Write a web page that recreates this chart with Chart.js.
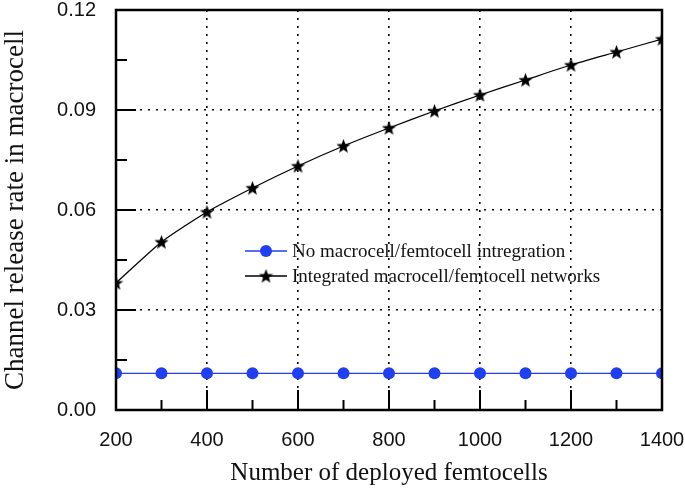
<!DOCTYPE html>
<html>
<head>
<meta charset="utf-8">
<script src="https://cdn.jsdelivr.net/npm/chart.js@4/dist/chart.umd.min.js"></script>
<style>
html,body{margin:0;padding:0;background:#fff;}
#wrap{width:685px;height:488px;position:relative;}
</style>
</head>
<body>
<div id="wrap"><canvas id="c" width="685" height="488"></canvas></div>
<script>
const femtocells = [200, 300, 400, 500, 600, 700, 800, 900, 1000, 1100, 1200, 1300, 1400];
const noIntegration = [0.011, 0.011, 0.011, 0.011, 0.011, 0.011, 0.011, 0.011, 0.011, 0.011, 0.011, 0.011, 0.011];
const integrated = [0.0381, 0.0504, 0.0594, 0.0666, 0.0732, 0.0792, 0.0846, 0.0897, 0.0945, 0.0990, 0.1035, 0.1074, 0.1113];
const seriesLabels = ['No macrocell/femtocell intregration', 'Integrated macrocell/femtocell networks'];
const xTitle = 'Number of deployed femtocells';
const yTitle = 'Channel release rate in macrocell';

function makeStar(size) {
  const cv = document.createElement('canvas');
  cv.width = size; cv.height = size;
  const g = cv.getContext('2d');
  const cx = size / 2, cy = size / 2 + 0.6, R = size / 2, r = R * 0.42;
  g.beginPath();
  for (let i = 0; i < 10; i++) {
    const rad = i % 2 === 0 ? R : r;
    const a = -Math.PI / 2 + i * Math.PI / 5;
    const px = cx + rad * Math.cos(a), py = cy + rad * Math.sin(a);
    if (i === 0) g.moveTo(px, py); else g.lineTo(px, py);
  }
  g.closePath();
  g.fillStyle = '#000';
  g.fill();
  return cv;
}
const starImg = makeStar(15);
const blue = '#1f3ff0';

const frameAndTicks = {
  id: 'frameAndTicks',
  afterDraw(chart) {
    const ctx = chart.ctx;
    const a = chart.chartArea;
    const xs = chart.scales.x, ys = chart.scales.y;
    ctx.save();
    ctx.strokeStyle = '#000';
    ctx.lineWidth = 2;
    const xt = xs.ticks.map(t => t.value);
    ctx.beginPath();
    xt.forEach((v, i) => {
      const px = xs.getPixelForValue(v);
      ctx.moveTo(px, a.bottom); ctx.lineTo(px, a.bottom - 20);
      if (i < xt.length - 1) {
        const pm = xs.getPixelForValue((v + xt[i + 1]) / 2);
        ctx.moveTo(pm, a.bottom); ctx.lineTo(pm, a.bottom - 10);
      }
    });
    const yt = ys.ticks.map(t => t.value);
    yt.forEach((v, i) => {
      const py = ys.getPixelForValue(v);
      ctx.moveTo(a.left, py); ctx.lineTo(a.left + 20, py);
      if (i < yt.length - 1) {
        const pm = ys.getPixelForValue((v + yt[i + 1]) / 2);
        ctx.moveTo(a.left, pm); ctx.lineTo(a.left + 11, pm);
      }
    });
    ctx.stroke();
    ctx.lineWidth = 2.5;
    ctx.strokeRect(a.left, a.top, a.right - a.left, a.bottom - a.top);

    // legend
    const lx = 245, ly = 251, gap = 25;
    ctx.font = '19px "Liberation Serif", "Times New Roman", serif';
    ctx.textBaseline = 'middle';
    ctx.textAlign = 'left';
    chart.data.datasets.forEach((ds, i) => {
      const y = ly + i * gap;
      ctx.strokeStyle = ds.borderColor;
      ctx.lineWidth = 1.5;
      ctx.beginPath(); ctx.moveTo(lx, y); ctx.lineTo(lx + 42, y); ctx.stroke();
      if (i === 0) {
        ctx.fillStyle = blue;
        ctx.beginPath(); ctx.arc(lx + 21, y, 6, 0, Math.PI * 2); ctx.fill();
      } else {
        ctx.drawImage(starImg, lx + 21 - 7.5, y - 7.5);
      }
      ctx.fillStyle = '#111';
      ctx.fillText(ds.label, lx + 47, y + 1);
    });
    ctx.restore();
  }
};

new Chart(document.getElementById('c'), {
  type: 'line',
  data: {
    datasets: [
      {
        label: seriesLabels[0],
        data: femtocells.map((x, i) => ({ x: x, y: noIntegration[i] })),
        borderColor: blue,
        backgroundColor: blue,
        borderWidth: 1.3,
        pointRadius: 6,
        pointHoverRadius: 6,
        pointBorderWidth: 0,
        clip: 0
      },
      {
        label: seriesLabels[1],
        data: femtocells.map((x, i) => ({ x: x, y: integrated[i] })),
        borderColor: '#000',
        backgroundColor: '#000',
        borderWidth: 1.3,
        pointStyle: starImg,
        pointRadius: 7,
        tension: 0.2,
        clip: 0
      }
    ]
  },
  options: {
    responsive: false,
    animation: false,
    layout: { padding: { top: 10, right: 23, left: 0, bottom: 0 } },
    plugins: { legend: { display: false }, tooltip: { enabled: false } },
    scales: {
      x: {
        type: 'linear',
        min: 200, max: 1400,
        afterFit(s) { s.height = 78; s.paddingLeft = 0; s.paddingRight = 0; },
        ticks: {
          stepSize: 200,
          padding: 18,
          color: '#111',
          font: { family: '"Liberation Sans", Arial, sans-serif', size: 20 },
          maxRotation: 0,
          callback: (v) => String(v)
        },
        grid: {
          color: (c) => (c.tick && (c.tick.value === 200 || c.tick.value === 1400)) ? 'rgba(0,0,0,0)' : '#000',
          lineWidth: 1.6,
          drawTicks: false
        },
        border: { display: false, dash: [2, 6] },
        title: {
          display: true, text: xTitle, color: '#111',
          font: { family: '"Liberation Serif", "Times New Roman", serif', size: 25 },
          padding: { top: 2, bottom: 0 }
        }
      },
      y: {
        min: 0, max: 0.12,
        afterFit(s) { s.width = 116; s.paddingTop = 0; s.paddingBottom = 0; },
        ticks: {
          stepSize: 0.03,
          padding: 20,
          color: '#111',
          font: { family: '"Liberation Sans", Arial, sans-serif', size: 20 },
          callback: (v) => Number(v).toFixed(2)
        },
        grid: {
          color: (c) => (c.tick && (Math.abs(c.tick.value) < 1e-9 || Math.abs(c.tick.value - 0.12) < 1e-9)) ? 'rgba(0,0,0,0)' : '#000',
          lineWidth: 1.6,
          drawTicks: false
        },
        border: { display: false, dash: [2, 6] },
        title: {
          display: true, text: yTitle, color: '#111',
          font: { family: '"Liberation Serif", "Times New Roman", serif', size: 27 },
          padding: { top: 0, bottom: 4 }
        }
      }
    }
  },
  plugins: [frameAndTicks]
});
</script>
</body>
</html>
